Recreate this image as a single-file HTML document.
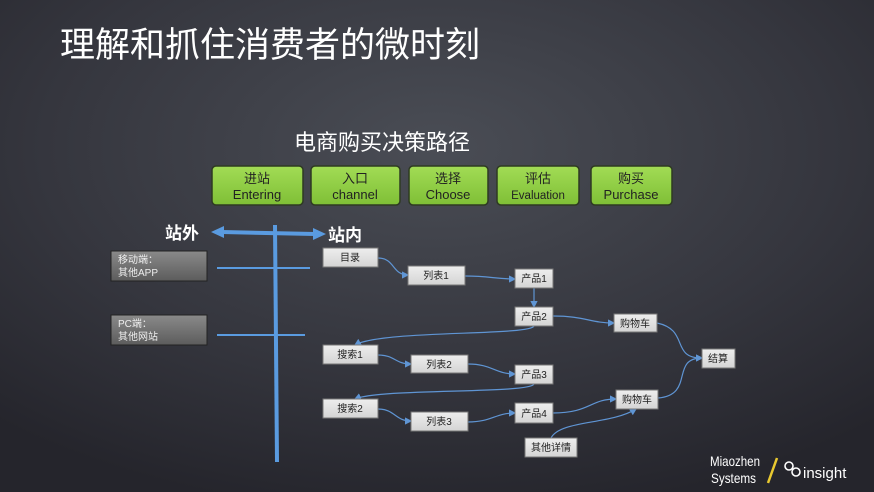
<!DOCTYPE html>
<html><head><meta charset="utf-8">
<style>
html,body{margin:0;padding:0;width:874px;height:492px;overflow:hidden;background:#2b2c33;}
svg{display:block;font-family:"Liberation Sans","Noto Sans CJK SC",sans-serif;}
</style></head>
<body>
<svg width="874" height="492" viewBox="0 0 874 492" xmlns="http://www.w3.org/2000/svg">
<defs>
<radialGradient id="bg" cx="0.5" cy="0.3" r="0.75">
<stop offset="0" stop-color="#4a4d55"/>
<stop offset="0.6" stop-color="#35363e"/>
<stop offset="1" stop-color="#25252c"/>
</radialGradient>
<linearGradient id="gr" x1="0" y1="0" x2="0" y2="1">
<stop offset="0" stop-color="#a2dc55"/>
<stop offset="1" stop-color="#7fbf36"/>
</linearGradient>
<linearGradient id="gb" x1="0" y1="0" x2="0" y2="1">
<stop offset="0" stop-color="#eeeeee"/>
<stop offset="1" stop-color="#d4d4d4"/>
</linearGradient>
<linearGradient id="db" x1="0" y1="0" x2="0" y2="1">
<stop offset="0" stop-color="#8a8a8a"/>
<stop offset="1" stop-color="#5c5c5c"/>
</linearGradient>
<marker id="a" markerWidth="6" markerHeight="6" refX="5" refY="3" orient="auto"><path d="M0,0L6,3L0,6z" fill="#5f95d4"/></marker>
</defs>
<rect width="874" height="492" fill="url(#bg)"/>
<text x="60" y="57" font-size="35" fill="#fff">理解和抓住消费者的微时刻</text>
<text x="382" y="150" font-size="22" fill="#fff" text-anchor="middle">电商购买决策路径</text>

<g font-size="13" fill="#222" text-anchor="middle">
<rect x="212" y="166" width="91" height="39" rx="4" fill="url(#gr)" stroke="#2e3a22" stroke-width="1.5"/>
<text x="257" y="183">进站</text><text x="257" y="199">Entering</text>
<rect x="311" y="166" width="89" height="39" rx="4" fill="url(#gr)" stroke="#2e3a22" stroke-width="1.5"/>
<text x="355" y="183">入口</text><text x="355" y="199">channel</text>
<rect x="409" y="166" width="79" height="39" rx="4" fill="url(#gr)" stroke="#2e3a22" stroke-width="1.5"/>
<text x="448" y="183">选择</text><text x="448" y="199">Choose</text>
<rect x="497" y="166" width="82" height="39" rx="4" fill="url(#gr)" stroke="#2e3a22" stroke-width="1.5"/>
<text x="538" y="183">评估</text><text x="538" y="199" font-size="11.5">Evaluation</text>
<rect x="591" y="166" width="81" height="39" rx="4" fill="url(#gr)" stroke="#2e3a22" stroke-width="1.5"/>
<text x="631" y="183">购买</text><text x="631" y="199">Purchase</text>
</g>

<text x="165" y="239" font-size="17" font-weight="bold" fill="#fff">站外</text>
<text x="328" y="241" font-size="17" font-weight="bold" fill="#fff">站内</text>
<line x1="222" y1="232" x2="315" y2="234" stroke="#5a9be0" stroke-width="4"/>
<path d="M211,232L224,226L224,238z" fill="#5a9be0"/>
<path d="M326,234L313,228L313,240z" fill="#5a9be0"/>
<line x1="275" y1="225" x2="277" y2="462" stroke="#5a9be0" stroke-width="4"/>
<line x1="217" y1="268" x2="310" y2="268" stroke="#5a9be0" stroke-width="2"/>
<line x1="217" y1="335" x2="305" y2="335" stroke="#5a9be0" stroke-width="2"/>

<rect x="111" y="251" width="96" height="30" fill="url(#db)" stroke="#222"/>
<text x="118" y="263" font-size="10" fill="#eee">移动端：</text>
<text x="118" y="276" font-size="10" fill="#eee">其他APP</text>
<rect x="111" y="315" width="96" height="30" fill="url(#db)" stroke="#222"/>
<text x="118" y="327" font-size="10" fill="#eee">PC端：</text>
<text x="118" y="340" font-size="10" fill="#eee">其他网站</text>

<g fill="none" stroke="#5f95d4" stroke-width="1.2" marker-end="url(#a)">
<path d="M378,258C395,258 392,275 408,275"/>
<path d="M465,276C490,276 495,279 515,279"/>
<path d="M534,288L534,307"/>
<path d="M553,316C585,316 590,323 614,323"/>
<path d="M534,326C530,336 380,330 355,345"/>
<path d="M378,355C395,355 395,364 411,364"/>
<path d="M468,364C492,364 495,374 515,374"/>
<path d="M534,384C530,394 380,388 355,399"/>
<path d="M378,409C395,409 395,421 411,421"/>
<path d="M468,422C492,422 495,413 515,413"/>
<path d="M553,413C590,413 590,399 616,399"/>
<path d="M551,438C560,420 610,425 636,409"/>
<path d="M657,323C690,330 670,358 702,358"/>
<path d="M658,398C695,395 670,358 702,358"/>
</g>

<g font-size="10" fill="#222" text-anchor="middle">
<rect x="323" y="248" width="55" height="19" fill="url(#gb)" stroke="#777"/><text x="350" y="261">目录</text>
<rect x="408" y="266" width="57" height="19" fill="url(#gb)" stroke="#777"/><text x="436" y="279">列表1</text>
<rect x="515" y="269" width="38" height="19" fill="url(#gb)" stroke="#777"/><text x="534" y="282">产品1</text>
<rect x="515" y="307" width="38" height="19" fill="url(#gb)" stroke="#777"/><text x="534" y="320">产品2</text>
<rect x="323" y="345" width="55" height="19" fill="url(#gb)" stroke="#777"/><text x="350" y="358">搜索1</text>
<rect x="411" y="355" width="57" height="18" fill="url(#gb)" stroke="#777"/><text x="439" y="368">列表2</text>
<rect x="515" y="365" width="38" height="19" fill="url(#gb)" stroke="#777"/><text x="534" y="378">产品3</text>
<rect x="323" y="399" width="55" height="19" fill="url(#gb)" stroke="#777"/><text x="350" y="412">搜索2</text>
<rect x="411" y="412" width="57" height="19" fill="url(#gb)" stroke="#777"/><text x="439" y="425">列表3</text>
<rect x="515" y="403" width="38" height="20" fill="url(#gb)" stroke="#777"/><text x="534" y="417">产品4</text>
<rect x="525" y="438" width="52" height="19" fill="url(#gb)" stroke="#777"/><text x="551" y="451">其他详情</text>
<rect x="614" y="314" width="43" height="18" fill="url(#gb)" stroke="#777"/><text x="635" y="327">购物车</text>
<rect x="616" y="390" width="42" height="19" fill="url(#gb)" stroke="#777"/><text x="637" y="403">购物车</text>
<rect x="702" y="349" width="33" height="19" fill="url(#gb)" stroke="#777"/><text x="718" y="362">结算</text>
</g>

<text x="710" y="466" font-size="14" fill="#fff" textLength="50" lengthAdjust="spacingAndGlyphs">Miaozhen</text>
<text x="711" y="483" font-size="14" fill="#fff" textLength="45" lengthAdjust="spacingAndGlyphs">Systems</text>
<line x1="768" y1="483" x2="777" y2="458" stroke="#e8c830" stroke-width="2.5"/>
<g fill="none" stroke="#fff" stroke-width="1.6">
<circle cx="789" cy="466" r="4"/><circle cx="796" cy="472" r="4"/>
</g>
<text x="803" y="478" font-size="15" fill="#fff">insight</text>
</svg>
</body></html>
